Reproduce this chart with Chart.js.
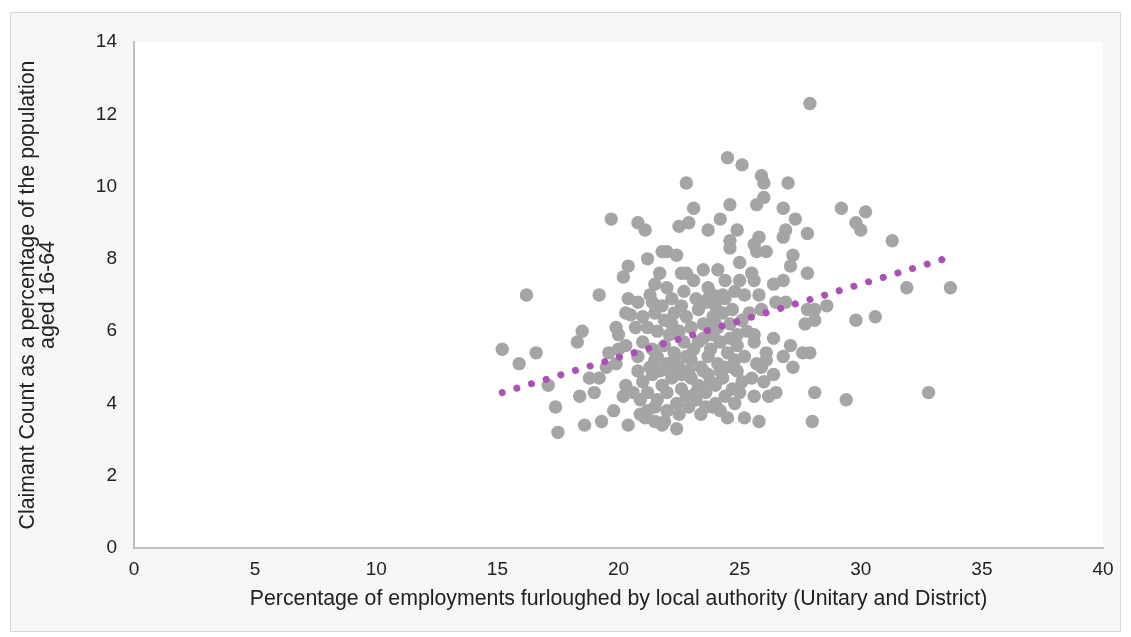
<!DOCTYPE html>
<html>
<head>
<meta charset="utf-8">
<script src="https://cdn.jsdelivr.net/npm/chart.js@4/dist/chart.umd.min.js"></script>
<style>
  html, body { margin: 0; padding: 0; background: #ffffff; }
  #frame {
    position: absolute; left: 10px; top: 12px;
    width: 1109px; height: 618px;
    border: 1px solid #d9d9d9; background: #f7f7f7;
  }
  #chart { display: block; }
</style>
</head>
<body>
<div id="frame"><canvas id="chart" width="1109" height="618"></canvas></div>
<script>
// Furlough rate (%) by local authority, Unitary and District
const furloughPct = [
  27.9, 24.5, 25.1, 22.8, 25.9, 26.0, 27.0, 19.7, 20.8, 21.1,
  22.5, 22.9, 23.1, 24.2, 24.6, 25.7, 26.0, 26.8, 27.3, 29.2,
  29.8, 30.0, 30.2, 31.3, 27.8, 26.9, 26.8, 23.7, 24.9, 24.6,
  24.6, 25.8, 25.6, 26.1, 25.7, 27.2, 27.1, 25.0, 27.8, 21.8,
  22.0, 22.4, 21.2, 20.4, 20.2, 19.2, 16.2, 21.7, 22.6, 22.8,
  23.5, 24.1, 25.5, 21.5, 22.0, 23.1, 24.4, 25.0, 25.6, 26.4,
  26.8, 23.7, 20.4, 20.8, 21.3, 22.7, 23.7, 24.8, 25.2, 25.8,
  26.5, 26.9, 27.8, 28.1, 28.6, 31.9, 33.7, 29.8, 30.6, 27.7,
  28.1, 26.4, 27.1, 27.6, 27.9, 26.1, 26.8, 27.2, 26.4, 25.7,
  25.6, 28.1, 29.4, 32.8, 28.0, 25.2, 25.8, 26.5, 26.2, 25.6,
  25.0, 23.9, 25.5, 26.0, 25.9, 26.1, 25.6, 25.3, 15.2, 15.9,
  16.6, 17.1, 17.4, 17.5, 18.5, 18.3, 18.4, 18.6, 19.3, 20.4,
  21.8, 22.4, 19.8, 19.9, 20.0, 20.3, 19.5, 19.2, 19.0, 20.2,
  20.3, 20.8, 20.8, 20.0, 18.8, 21.2, 21.9, 21.5, 20.9, 20.5,
  23.4, 21.5,
  21.0, 21.5, 21.9, 22.3, 22.8, 23.3, 23.6, 24.0, 24.3, 24.7,
  23.9, 23.5, 23.0, 22.5, 22.1, 21.6, 21.2, 24.1, 24.6, 24.9,
  22.6, 22.2, 21.8, 23.9, 24.3, 23.2, 24.0,
  21.0, 21.4, 21.9, 22.3, 22.7, 23.1, 23.5, 23.8, 24.2, 24.5,
  24.9, 25.2, 22.0, 22.5, 23.0, 23.4, 23.7, 24.1, 24.4, 24.8,
  21.3, 21.7, 22.8, 23.9, 24.6,
  21.0, 21.4, 21.8, 22.2, 22.6, 23.0, 23.3, 23.7, 24.0, 24.3,
  24.7, 25.1, 21.2, 21.6, 22.0, 22.4, 22.8, 23.2, 23.6, 24.0,
  24.4, 24.8, 22.1, 23.5, 24.9, 20.6, 22.6,
  21.1, 21.5, 22.0, 22.5, 22.9, 23.6, 24.2, 20.9, 24.5,
  20.3, 20.7, 19.9, 19.6, 25.4, 25.9, 25.1,
  22.3, 23.2, 23.8, 22.9, 24.2, 21.6, 23.3, 24.7, 22.2, 23.7,
  21.4, 24.4
];

// Claimant count as % of population aged 16-64, same authorities
const claimantPct = [
  12.3, 10.8, 10.6, 10.1, 10.3, 10.1, 10.1,  9.1,  9.0,  8.8,
   8.9,  9.0,  9.4,  9.1,  9.5,  9.5,  9.7,  9.4,  9.1,  9.4,
   9.0,  8.8,  9.3,  8.5,  8.7,  8.8,  8.6,  8.8,  8.8,  8.5,
   8.3,  8.6,  8.4,  8.2,  8.2,  8.1,  7.8,  7.9,  7.6,  8.2,
   8.2,  8.1,  8.0,  7.8,  7.5,  7.0,  7.0,  7.6,  7.6,  7.6,
   7.7,  7.7,  7.6,  7.3,  7.2,  7.4,  7.4,  7.4,  7.4,  7.3,
   7.4,  7.2,  6.9,  6.8,  7.0,  7.1,  6.9,  7.1,  7.0,  7.0,
   6.8,  6.8,  6.6,  6.6,  6.7,  7.2,  7.2,  6.3,  6.4,  6.2,
   6.3,  5.8,  5.6,  5.4,  5.4,  5.4,  5.3,  5.0,  4.8,  5.1,
   5.7,  4.3,  4.1,  4.3,  3.5,  3.6,  3.5,  4.3,  4.2,  4.2,
   4.3,  3.9,  4.7,  4.6,  5.0,  5.2,  5.9,  6.0,  5.5,  5.1,
   5.4,  4.5,  3.9,  3.2,  6.0,  5.7,  4.2,  3.4,  3.5,  3.4,
   3.4,  3.3,  3.8,  6.1,  5.9,  5.6,  5.0,  4.7,  4.3,  4.2,
   4.5,  4.9,  5.3,  5.5,  4.7,  3.8,  3.5,  5.2,  4.1,  6.45,
   3.7,  3.5,
   6.4,  6.5,  6.3,  6.5,  6.4,  6.6,  6.8,  6.7,  6.5,  6.6,
   6.4,  6.2,  6.1,  6.0,  5.9,  6.0,  6.1,  6.1,  6.2,  5.9,
   6.7,  6.9,  6.7,  7.0,  7.0,  6.9,  6.2,
   5.7,  5.5,  5.6,  5.4,  5.7,  5.5,  5.8,  5.5,  5.7,  5.4,
   5.6,  5.3,  5.1,  5.0,  5.2,  5.0,  5.3,  5.1,  5.0,  5.2,
   5.0,  4.9,  5.3,  5.9,  5.8,
   4.6,  4.8,  4.5,  4.7,  4.4,  4.7,  4.5,  4.8,  4.5,  4.7,
   4.4,  4.6,  4.3,  4.1,  4.3,  4.0,  4.2,  4.1,  4.3,  4.0,
   4.2,  4.0,  4.9,  4.9,  4.9,  4.3,  4.8,
   3.6,  3.9,  3.8,  3.7,  3.9,  3.9,  3.8,  3.7,  3.6,
   6.5,  6.1,  5.1,  5.4,  6.5,  6.6,  6.3,
   5.2,  4.3,  4.6,  4.9,  4.9,  5.3,  5.7,  5.0,  6.2,  6.1,
   6.8,  6.9
];

// Linear trend end points
const trendX = [15.2, 33.7];
const trendY = [4.3, 8.05];

const xTicks = [0, 5, 10, 15, 20, 25, 30, 35, 40];
const yTicks = [0, 2, 4, 6, 8, 10, 12, 14];

const points = furloughPct.map((x, i) => ({ x, y: claimantPct[i] }));
const trend = trendX.map((x, i) => ({ x, y: trendY[i] }));

// White plot area on the grey panel
const plotBackground = {
  id: 'plotBackground',
  beforeDraw(chart) {
    const { ctx, chartArea: a } = chart;
    ctx.save();
    ctx.fillStyle = '#ffffff';
    ctx.fillRect(a.left, a.top, a.right - a.left, a.bottom - a.top);
    ctx.restore();
  }
};

const tickFont = { family: 'Liberation Sans, Arial, sans-serif', size: 19 };
const titleFont = { family: 'Liberation Sans, Arial, sans-serif', size: 21.3 };

new Chart(document.getElementById('chart'), {
  type: 'scatter',
  data: {
    datasets: [
      {
        label: 'Linear trend',
        data: trend,
        type: 'line',
        showLine: true,
        order: 0,
        borderColor: '#ac4fb6',
        borderWidth: 7,
        borderDash: [0.01, 15.3],
        borderCapStyle: 'round',
        pointRadius: 0,
        fill: false
      },
      {
        label: 'Local authorities',
        data: points,
        order: 1,
        backgroundColor: '#a5a5a5',
        borderWidth: 0,
        pointRadius: 6.7,
        pointHoverRadius: 6.7
      }
    ]
  },
  options: {
    responsive: false,
    animation: false,
    layout: { padding: { top: 29, right: 17, left: 0, bottom: 0 } },
    plugins: { legend: { display: false }, tooltip: { enabled: false } },
    scales: {
      x: {
        type: 'linear',
        min: 0, max: 40,
        afterBuildTicks(scale) { scale.ticks = xTicks.map(v => ({ value: v })); },
        afterFit(scale) {
          scale.height = 83;
          scale.paddingLeft = 0;
          scale.paddingRight = 0;
        },
        grid: { display: false, drawTicks: false },
        border: { display: true, color: '#bfbfbf', width: 2 },
        ticks: { color: '#222222', font: tickFont, padding: 10, maxRotation: 0 },
        title: {
          display: true,
          text: 'Percentage of employments furloughed by local authority (Unitary and District)',
          color: '#222222',
          font: { ...titleFont, lineHeight: 1.2 },
          padding: { top: 0, bottom: 19 }
        }
      },
      y: {
        type: 'linear',
        min: 0, max: 14,
        afterBuildTicks(scale) { scale.ticks = yTicks.map(v => ({ value: v })); },
        afterFit(scale) { scale.width = 123; },
        grid: { display: false, drawTicks: false },
        border: { display: true, color: '#bfbfbf', width: 2 },
        ticks: { color: '#222222', font: tickFont, padding: 17 },
        title: {
          display: true,
          text: ['Claimant Count as a percentage of the population', 'aged 16-64'],
          color: '#222222',
          font: { ...titleFont, lineHeight: 0.95 },
          padding: { top: 7, bottom: 0 }
        }
      }
    }
  },
  plugins: [plotBackground]
});
</script>
</body>
</html>
